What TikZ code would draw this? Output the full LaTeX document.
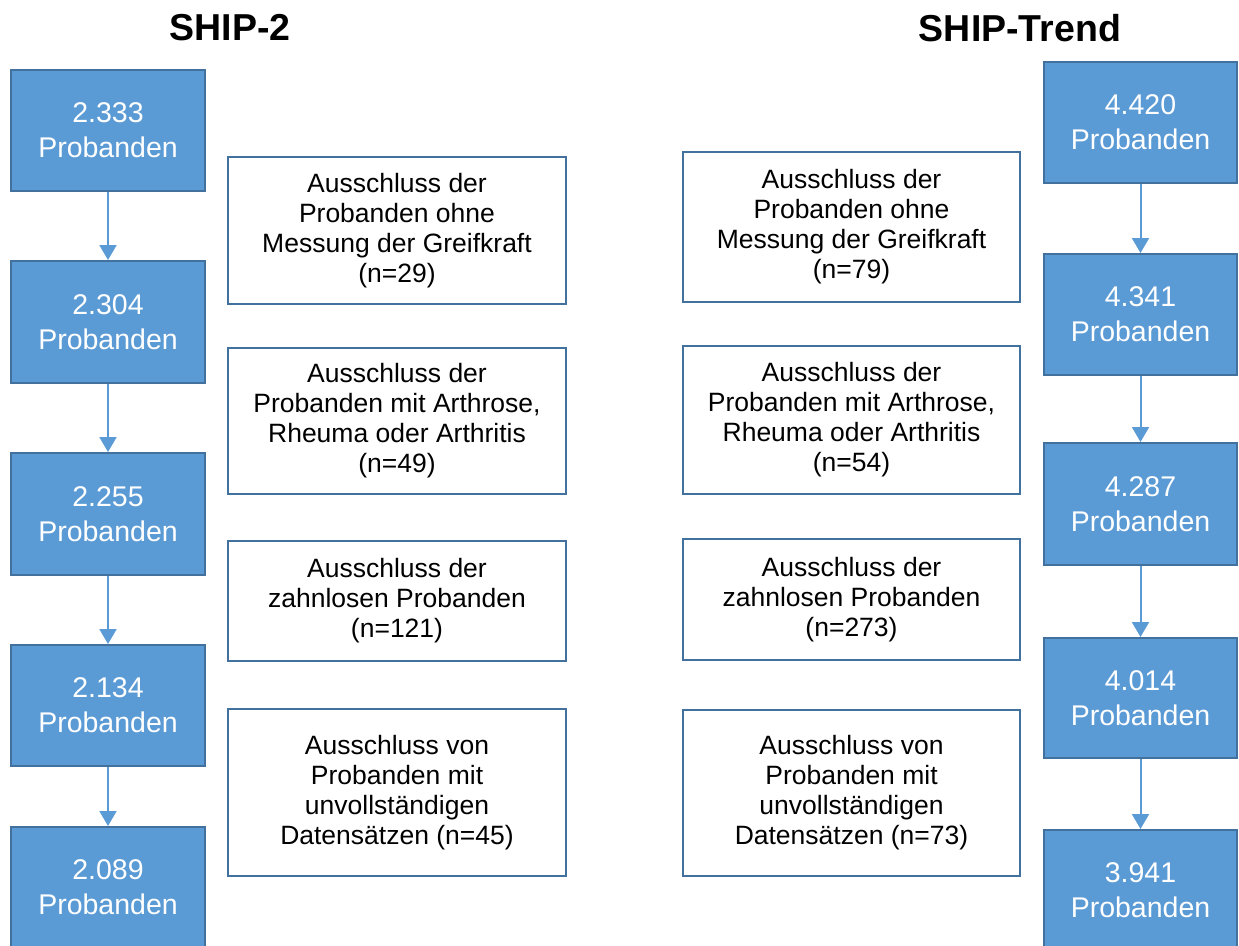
\documentclass[tikz,border=0pt]{standalone}
\usepackage{fontspec}
\setmainfont{Liberation Sans}
\usetikzlibrary{arrows.meta}
\definecolor{boxblue}{HTML}{5B9BD5}
\definecolor{edgeblue}{HTML}{41719C}
\tikzset{
  count/.style={draw=edgeblue, fill=boxblue, line width=2pt, text=white, align=center, inner sep=0pt,
    font=\fontsize{28.5}{35}\selectfont},
  excl/.style={draw=edgeblue, fill=white, line width=2pt, text=black, align=center, inner sep=0pt,
    font=\fontsize{26.5}{30}\selectfont},
  flow/.style={draw=boxblue, line width=2pt, -{Triangle[width=17pt,length=15pt]}},
  title/.style={font=\fontsize{37.5}{44}\selectfont\bfseries, inner sep=0pt}
}
\begin{document}
\begin{tikzpicture}[x=1pt,y=-1pt]
\useasboundingbox (0,0) rectangle (1239,945);
\clip (0,0) rectangle (1239,945);
% titles
\node[title] (t1) at (230,28) {SHIP-2};
\node[title] (t2) at (1020,28) {SHIP-Trend};
% left column counts
\node[count, minimum width=194pt, minimum height=121pt] (a1) at (108,130.5) {2.333\\Probanden};
\node[count, minimum width=194pt, minimum height=122pt] (a2) at (108,322) {2.304\\Probanden};
\node[count, minimum width=194pt, minimum height=122pt] (a3) at (108,514) {2.255\\Probanden};
\node[count, minimum width=194pt, minimum height=121pt] (a4) at (108,705.5) {2.134\\Probanden};
\node[count, minimum width=194pt, minimum height=121pt] (a5) at (108,887.5) {2.089\\Probanden};
% left exclusions
\node[excl, minimum width=338pt, minimum height=147pt] (e1) at (397,230.5) {Ausschluss der\\Probanden ohne\\Messung der Greifkraft\\(n=29)};
\node[excl, minimum width=338pt, minimum height=146pt] (e2) at (397,421) {Ausschluss der\\Probanden mit Arthrose,\\Rheuma oder Arthritis\\(n=49)};
\node[excl, minimum width=338pt, minimum height=120pt] (e3) at (397,601) {Ausschluss der\\zahnlosen Probanden\\(n=121)};
\node[excl, minimum width=338pt, minimum height=167pt] (e4) at (397,792.5) {Ausschluss von\\Probanden mit\\unvollständigen\\Datensätzen (n=45)};
% right exclusions
\node[excl, minimum width=337pt, minimum height=150pt] (f1) at (851.5,227) {Ausschluss der\\Probanden ohne\\Messung der Greifkraft\\(n=79)};
\node[excl, minimum width=337pt, minimum height=148pt] (f2) at (851.5,420) {Ausschluss der\\Probanden mit Arthrose,\\Rheuma oder Arthritis\\(n=54)};
\node[excl, minimum width=337pt, minimum height=121pt] (f3) at (851.5,599.5) {Ausschluss der\\zahnlosen Probanden\\(n=273)};
\node[excl, minimum width=337pt, minimum height=166pt] (f4) at (851.5,793) {Ausschluss von\\Probanden mit\\unvollständigen\\Datensätzen (n=73)};
% right column counts
\node[count, minimum width=193pt, minimum height=121pt] (b1) at (1140.5,122.5) {4.420\\Probanden};
\node[count, minimum width=193pt, minimum height=121pt] (b2) at (1140.5,314.5) {4.341\\Probanden};
\node[count, minimum width=193pt, minimum height=122pt] (b3) at (1140.5,504) {4.287\\Probanden};
\node[count, minimum width=193pt, minimum height=120pt] (b4) at (1140.5,698) {4.014\\Probanden};
\node[count, minimum width=193pt, minimum height=121pt] (b5) at (1140.5,890.5) {3.941\\Probanden};
% arrows
\draw[flow] (a1) -- (a2);
\draw[flow] (a2) -- (a3);
\draw[flow] (a3) -- (a4);
\draw[flow] (a4) -- (a5);
\draw[flow] (b1) -- (b2);
\draw[flow] (b2) -- (b3);
\draw[flow] (b3) -- (b4);
\draw[flow] (b4) -- (b5);
\end{tikzpicture}
\end{document}
